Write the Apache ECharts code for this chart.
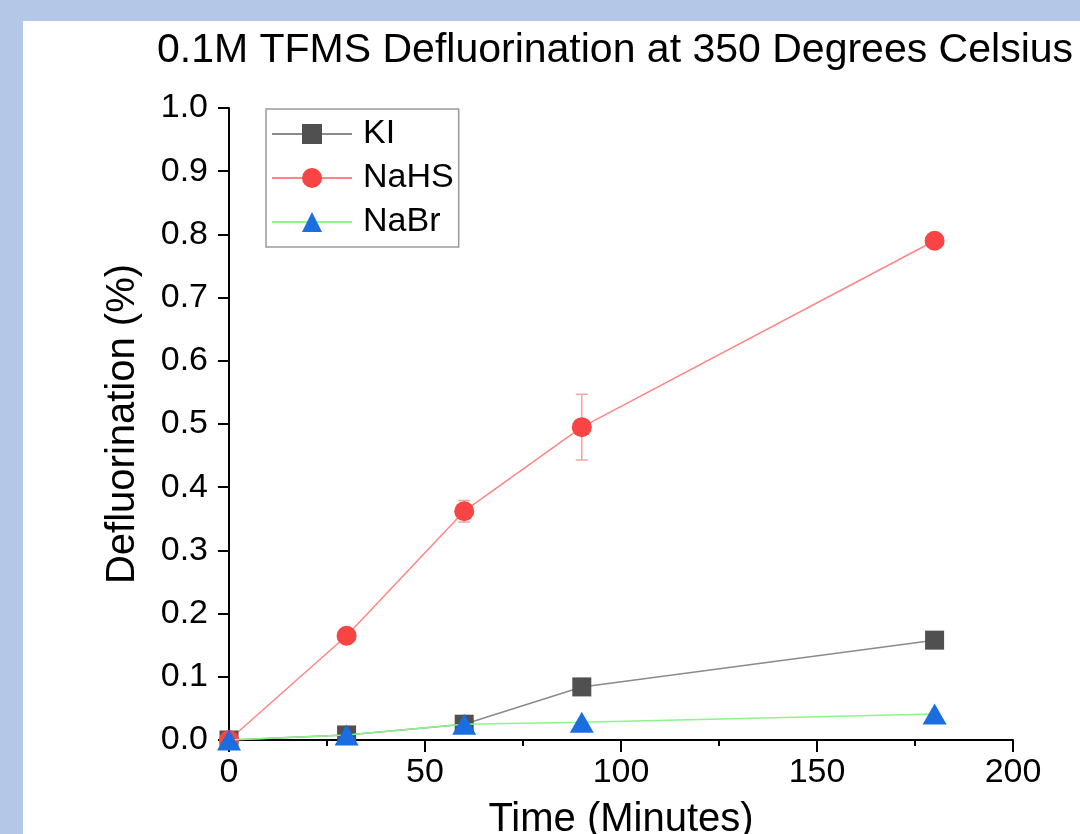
<!DOCTYPE html>
<html>
<head>
<meta charset="utf-8">
<script src="https://cdn.jsdelivr.net/npm/echarts@6/dist/echarts.min.js"></script>
<style>
  html, body { margin: 0; padding: 0; background: #b4c7e7; }
  #main { position: absolute; left: 23px; top: 21px; width: 1057px; height: 813px; background: #ffffff; }
</style>
</head>
<body>
<div id="main"></div>
<script>
// time points (minutes)
const times = [0, 30, 60, 90, 180];
const kiValues = [0, 0.008, 0.025, 0.084, 0.158];
const kiErr = [0, 0.002, 0.004, 0.013, 0];
const nahsValues = [0, 0.165, 0.362, 0.495, 0.79];
const nahsErr = [0, 0.004, 0.017, 0.052, 0];
const nabrValues = [0, 0.008, 0.025, 0.028, 0.041];
const nabrErr = [0, 0, 0, 0, 0];

const font = "'Liberation Sans', Arial, sans-serif";
const chart = echarts.init(document.getElementById('main'));

const pairs = (vals) => times.map((t, i) => [t, vals[i]]);
const errData = (vals, errs) => times.map((t, i) => [t, vals[i] - errs[i], vals[i] + errs[i]]);

const errorSeries = (name, vals, errs, color) => ({
  type: 'custom',
  name: name,
  silent: true,
  z: 1,
  data: errData(vals, errs),
  encode: { x: 0, y: [1, 2] },
  renderItem: (params, api) => {
    const lo = api.coord([api.value(0), api.value(1)]);
    const hi = api.coord([api.value(0), api.value(2)]);
    if (Math.abs(hi[1] - lo[1]) < 1) return;
    const w = 6;
    const style = { stroke: color, lineWidth: 1.5 };
    return {
      type: 'group',
      children: [
        { type: 'line', shape: { x1: lo[0], y1: lo[1], x2: hi[0], y2: hi[1] }, style },
        { type: 'line', shape: { x1: lo[0] - w, y1: lo[1], x2: lo[0] + w, y2: lo[1] }, style },
        { type: 'line', shape: { x1: hi[0] - w, y1: hi[1], x2: hi[0] + w, y2: hi[1] }, style }
      ]
    };
  }
});

const option = {
  animation: false,
  title: {
    text: '0.1M TFMS Defluorination at 350 Degrees Celsius',
    left: 587,
    textAlign: 'center',
    top: 4,
    textStyle: { fontFamily: font, fontSize: 41, fontWeight: 'normal', color: '#000' }
  },
  legend: {
    left: 243,
    top: 88,
    orient: 'vertical',
    itemWidth: 80,
    itemHeight: 25,
    itemGap: 10,
    padding: [8, 5, 8, 5],
    borderColor: '#9a9a9a',
    borderWidth: 1.5,
    textStyle: { fontFamily: font, fontSize: 34, color: '#000', padding: [0, 0, 0, 6] },
    data: ['KI', 'NaHS', 'NaBr']
  },
  grid: { left: 206, right: 67, top: 87, bottom: 94, outerBoundsMode: 'none', containLabel: false },
  xAxis: {
    type: 'value',
    min: 0,
    max: 200,
    interval: 50,
    name: 'Time (Minutes)',
    nameLocation: 'middle',
    nameGap: 60,
    nameTextStyle: { fontFamily: font, fontSize: 40, color: '#000' },
    axisLine: { lineStyle: { color: '#000', width: 2 } },
    axisTick: { inside: false, length: 12, lineStyle: { color: '#000', width: 2 } },
    minorTick: { show: true, splitNumber: 2, length: 6, lineStyle: { color: '#000', width: 2 } },
    axisLabel: { fontFamily: font, fontSize: 34, color: '#000', margin: 16 },
    splitLine: { show: false }
  },
  yAxis: {
    type: 'value',
    min: 0,
    max: 1,
    interval: 0.1,
    name: 'Defluorination (%)',
    nameLocation: 'middle',
    nameGap: 86,
    nameTextStyle: { fontFamily: font, fontSize: 40, color: '#000' },
    axisLine: { show: true, lineStyle: { color: '#000', width: 2 } },
    axisTick: { show: true, inside: false, length: 11, lineStyle: { color: '#000', width: 2 } },
    axisLabel: { fontFamily: font, fontSize: 34, color: '#000', margin: 21, formatter: (v) => v.toFixed(1) },
    splitLine: { show: false }
  },
  series: [
    errorSeries('KI-err', kiValues, kiErr, '#a8a8a8'),
    errorSeries('NaHS-err', nahsValues, nahsErr, '#f7a3a3'),
    errorSeries('NaBr-err', nabrValues, nabrErr, '#9ae09a'),
    {
      name: 'KI',
      type: 'line',
      z: 3,
      data: pairs(kiValues),
      symbol: 'rect',
      symbolSize: 19,
      itemStyle: { color: '#505050' },
      lineStyle: { color: '#8a8a8a', width: 1.5 }
    },
    {
      name: 'NaHS',
      type: 'line',
      z: 3,
      data: pairs(nahsValues),
      symbol: 'circle',
      symbolSize: 20,
      itemStyle: { color: '#f84444' },
      lineStyle: { color: '#ff8585', width: 1.5 }
    },
    {
      name: 'NaBr',
      type: 'line',
      z: 4,
      data: pairs(nabrValues),
      symbol: 'triangle',
      symbolSize: [24, 21],
      itemStyle: { color: '#1a6ee0' },
      lineStyle: { color: '#8af58a', width: 1.5 }
    }
  ]
};

chart.setOption(option);
</script>
</body>
</html>
